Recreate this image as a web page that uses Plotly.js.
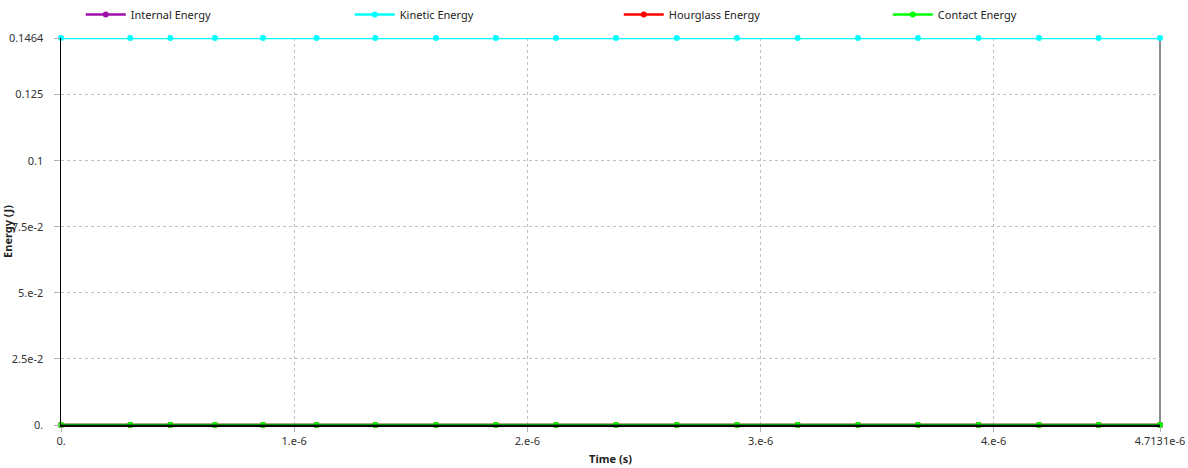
<!DOCTYPE html>
<html>
<head>
<meta charset="utf-8">
<script src="https://cdn.plot.ly/plotly-3.0.1.min.js"></script>
<style>
html,body{margin:0;padding:0;background:#fff;}
#chart{width:1188px;height:468px;}
</style>
</head>
<body>
<div id="chart"></div>
<script>
// Time values (s)
const time = [0, 0.297e-6, 0.469e-6, 0.660e-6, 0.866e-6, 1.096e-6, 1.348e-6, 1.608e-6, 1.865e-6, 2.123e-6,
              2.380e-6, 2.641e-6, 2.899e-6, 3.159e-6, 3.418e-6, 3.675e-6, 3.935e-6, 4.194e-6, 4.450e-6, 4.7131e-6];
const internalEnergy  = [0,0,0,0,0,0,0,0,0,0,0,0,0,0,0,0,0,0,0,0];
const kineticEnergy   = [0.1464,0.1464,0.1464,0.1464,0.1464,0.1464,0.1464,0.1464,0.1464,0.1464,
                         0.1464,0.1464,0.1464,0.1464,0.1464,0.1464,0.1464,0.1464,0.1464,0.1464];
const hourglassEnergy = [0,0,0,0,0,0,0,0,0,0,0,0,0,0,0,0,0,0,0,0];
const contactEnergy   = [0,0,0,0,0,0,0,0,0,0,0,0,0,0,0,0,0,0,0,0];

const seriesNames = ["Internal Energy", "Kinetic Energy", "Hourglass Energy", "Contact Energy"];
const seriesColors = ["#A010A8", "#00FFFF", "#FF0000", "#00FF00"];

const xTickVals = [0, 1e-6, 2e-6, 3e-6, 4e-6, 4.7131e-6];
const xTickText = ["0.", "1.e-6", "2.e-6", "3.e-6", "4.e-6", "4.7131e-6"];
const yTickVals = [0, 0.025, 0.05, 0.075, 0.1, 0.125, 0.1464];
const yTickText = ["0.", "2.5e-2", "5.e-2", "7.5e-2", "0.1", "0.125", "0.1464"];

const seriesData = [internalEnergy, kineticEnergy, hourglassEnergy, contactEnergy];
const traces = seriesData.map((ys, i) => ({
  x: time, y: ys, name: seriesNames[i], type: "scatter", mode: "lines+markers",
  line: {color: seriesColors[i], width: 2.5},
  marker: {color: seriesColors[i], size: 6, symbol: "circle"},
  cliponaxis: false
}));

const font = {family: "Noto Sans, DejaVu Sans, sans-serif", size: 11, color: "#333"};
const layout = {
  width: 1188, height: 468,
  margin: {l: 61, r: 28, t: 38, b: 43, autoexpand: false},
  paper_bgcolor: "#fff", plot_bgcolor: "#fff",
  font: font,
  showlegend: true,
  legend: {
    orientation: "h", xref: "container", yref: "container",
    x: 0.068, y: 1.0, xanchor: "left", yanchor: "top",
    entrywidth: 214, entrywidthmode: "pixels",
    font: {family: font.family, size: 11, color: "#222"},
    itemwidth: 40, traceorder: "normal", bgcolor: "rgba(0,0,0,0)"
  },
  xaxis: {
    range: [0, 4.7131e-6], tickvals: xTickVals, ticktext: xTickText,
    showgrid: true, gridcolor: "#c0c0c0", griddash: "3px,3px", gridwidth: 1,
    showline: true, linecolor: "#000", linewidth: 1.5,
    ticks: "outside", ticklen: 5, tickcolor: "#b0b0b0",
    zeroline: false, automargin: false,
    title: {text: "<b>Time (s)</b>", font: {family: font.family, size: 11, color: "#222"}, standoff: 8}
  },
  yaxis: {
    range: [0, 0.1464], tickvals: yTickVals, ticktext: yTickText,
    showgrid: true, gridcolor: "#c0c0c0", griddash: "3px,3px", gridwidth: 1,
    showline: true, linecolor: "#000", linewidth: 1.5,
    ticks: "outside", ticklen: 6, tickcolor: "#b0b0b0", ticklabelstandoff: 8,
    zeroline: false, automargin: false,
    title: {text: "<b>Energy (J)</b>", font: {family: font.family, size: 11, color: "#222"}, standoff: 0}
  },
  shapes: [
    {type: "line", xref: "paper", yref: "paper", x0: 1, x1: 1, y0: 0, y1: 1,
     line: {color: "#666", width: 1.5}, layer: "below"},
    {type: "line", xref: "paper", yref: "paper", x0: 0, x1: 1, y0: 0, y1: 0,
     line: {color: "#0a2a0a", width: 1.2}, layer: "above"}
  ]
};

Plotly.newPlot("chart", traces, layout, {displayModeBar: false, staticPlot: true});
</script>
</body>
</html>
